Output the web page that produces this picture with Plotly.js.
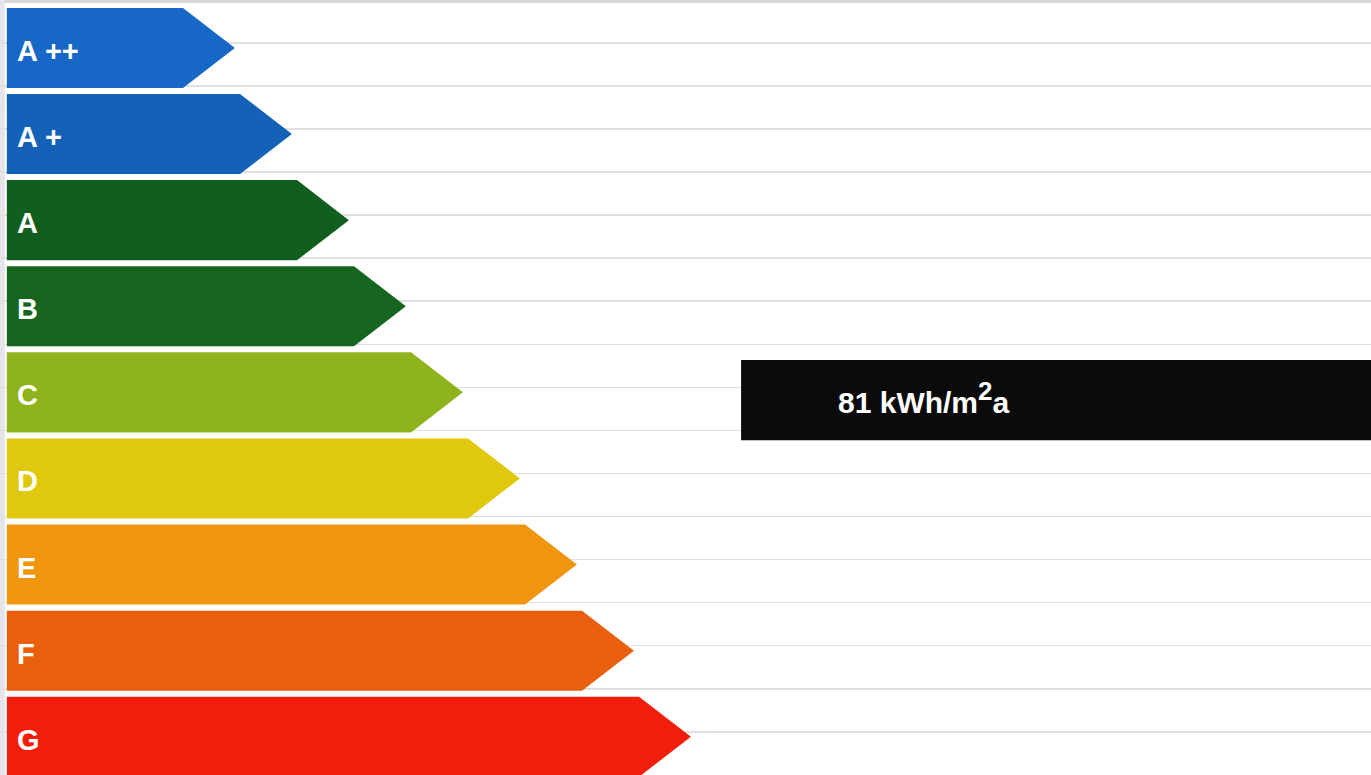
<!DOCTYPE html>
<html>
<head>
<meta charset="utf-8">
<script src="https://cdn.plot.ly/plotly-3.0.1.min.js"></script>
<style>
  html, body { margin: 0; padding: 0; background: #ffffff; }
  #chart { width: 1371px; height: 775px; }
</style>
</head>
<body>
<div id="chart"></div>
<script>
// ---- data ----
var classes = ["A ++", "A +", "A", "B", "C", "D", "E", "F", "G"];
var arrowLengths = [4, 5, 6, 7, 8, 9, 10, 11, 12];
var classColors = ["#1767c6", "#1461b8", "#115f1e", "#17661f", "#8fb31c", "#e0c80e", "#f0950f", "#e8600e", "#f21e0c"];
var ratingClass = "C";
var ratingValue = 81;
var ratingUnit = "kWh/m<sup><span style=\"font-size:26px\">2</span></sup>a";

// ---- geometry helpers (layout only) ----
var halfH = 0.465;      // arrow half height in row units
var headLen = 0.91;     // arrow head length in x units
var indicatorStart = 12.88;
var indicatorEnd = 24.5;
var indicatorYOffset = 0.09;
var indicatorHalfH = 0.465;

var traces = [];
classes.forEach(function (c, i) {
  var L = arrowLengths[i];
  var y = i;
  traces.push({
    type: "scatter",
    mode: "lines",
    x: [0, L - headLen, L, L - headLen, 0, 0],
    y: [y - halfH, y - halfH, y, y + halfH, y + halfH, y - halfH],
    fill: "toself",
    fillcolor: classColors[i],
    line: { width: 0, color: classColors[i] },
    hoverinfo: "skip",
    showlegend: false
  });
});

var ri = classes.indexOf(ratingClass);
var ry = ri + indicatorYOffset;
traces.push({
  type: "scatter",
  mode: "lines",
  x: [indicatorStart, indicatorEnd, indicatorEnd, indicatorStart, indicatorStart],
  y: [ry - indicatorHalfH, ry - indicatorHalfH, ry + indicatorHalfH, ry + indicatorHalfH, ry - indicatorHalfH],
  fill: "toself",
  fillcolor: "#0b0b0b",
  line: { width: 0, color: "#0b0b0b" },
  hoverinfo: "skip",
  showlegend: false
});

var annotations = classes.map(function (c, i) {
  return {
    x: 0.15, y: i, xref: "x", yref: "y",
    text: c, showarrow: false,
    xanchor: "left", yanchor: "middle", yshift: -3,
    font: { family: "Liberation Sans, Arial, sans-serif", size: 29, color: "#ffffff", weight: 700 }
  };
});
annotations.push({
  x: 14.55, y: ry, xref: "x", yref: "y",
  text: ratingValue + " " + ratingUnit,
  showarrow: false, xanchor: "left", yanchor: "middle", yshift: 3,
  font: { family: "Liberation Sans, Arial, sans-serif", size: 30, color: "#ffffff", weight: 700 }
});

var layout = {
  width: 1371, height: 775,
  margin: { l: 0, r: 0, t: 0, b: 0, pad: 0 },
  paper_bgcolor: "#ffffff",
  plot_bgcolor: "#ffffff",
  xaxis: {
    range: [-0.12, 23.93],
    showgrid: false, zeroline: false, showticklabels: false, ticks: "", showline: false,
    fixedrange: true
  },
  yaxis: {
    range: [8.444, -0.557],
    showgrid: true, gridcolor: "#e0e0e0", gridwidth: 1.6,
    tick0: -0.058, dtick: 0.5, tickmode: "linear",
    zeroline: false, showticklabels: false, ticks: "", showline: false,
    fixedrange: true
  },
  shapes: [
    { type: "line", xref: "paper", yref: "paper", x0: 0, x1: 1, y0: 0.998, y1: 0.998,
      line: { color: "#d6d6d6", width: 3 }, layer: "below" },
    { type: "rect", xref: "paper", yref: "paper", x0: 0, x1: 0.0035, y0: 0, y1: 1,
      fillcolor: "#e4e4ea", line: { width: 0 }, layer: "below" }
  ],
  annotations: annotations,
  showlegend: false
};

Plotly.newPlot("chart", traces, layout, { staticPlot: true, displayModeBar: false });
</script>
</body>
</html>
